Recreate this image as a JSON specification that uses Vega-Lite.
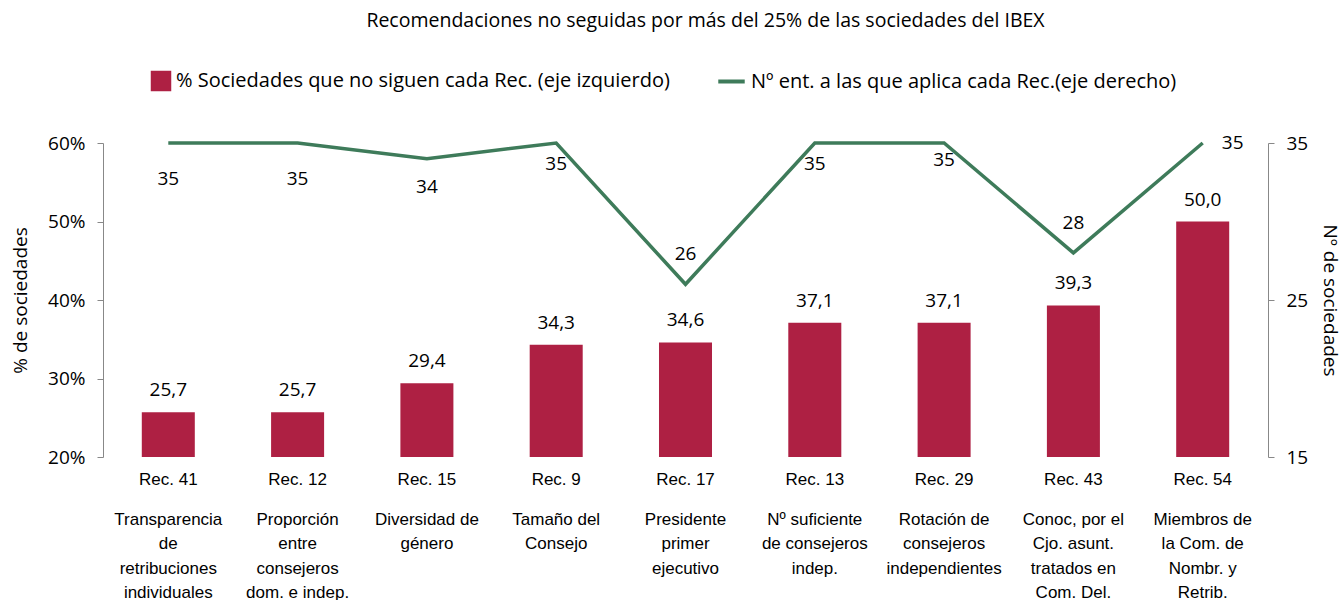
{
  "$schema": "https://vega.github.io/schema/vega-lite/v6.json",
  "width": 1165,
  "height": 314,
  "autosize": {"type": "none"},
  "padding": {"left": 103, "top": 143, "right": 76, "bottom": 143},
  "title": {"text": "Recomendaciones no seguidas por más del 25% de las sociedades del IBEX", "anchor": "middle", "dx": 20, "offset": 35, "font": "Open Sans", "fontSize": 19.5, "fontWeight": "normal", "color": "#000000"},
  "config": {
    "view": {"stroke": null},
    "font": "Open Sans",
    "axis": {"grid": false, "domainColor": "#888888", "tickColor": "#888888", "labelColor": "#000000", "titleColor": "#000000", "titleFontWeight": "normal"}
  },
  "data": {"values": [
    {"cat": "Rec. 41|Transparencia|de|retribuciones|individuales", "rec": "Rec. 41", "pct": 25.7, "n": 35},
    {"cat": "Rec. 12|Proporción|entre|consejeros|dom. e indep.", "rec": "Rec. 12", "pct": 25.7, "n": 35},
    {"cat": "Rec. 15|Diversidad de|género", "rec": "Rec. 15", "pct": 29.4, "n": 34},
    {"cat": "Rec. 9|Tamaño del|Consejo", "rec": "Rec. 9", "pct": 34.3, "n": 35},
    {"cat": "Rec. 17|Presidente|primer|ejecutivo", "rec": "Rec. 17", "pct": 34.6, "n": 26},
    {"cat": "Rec. 13|Nº suficiente|de consejeros|indep.", "rec": "Rec. 13", "pct": 37.1, "n": 35},
    {"cat": "Rec. 29|Rotación de|consejeros|independientes", "rec": "Rec. 29", "pct": 37.1, "n": 35},
    {"cat": "Rec. 43|Conoc, por el|Cjo. asunt.|tratados en|Com. Del.", "rec": "Rec. 43", "pct": 39.3, "n": 28},
    {"cat": "Rec. 54|Miembros de|la Com. de|Nombr. y|Retrib.", "rec": "Rec. 54", "pct": 50.0, "n": 35}
  ]},
  "layer": [
    {
      "encoding": {
        "x": {"field": "cat", "type": "nominal", "sort": null, "scale": {"paddingInner": 0.59, "paddingOuter": 0.3}, "axis": {"orient": "bottom", "title": null, "domain": false, "ticks": false, "labelAngle": 0, "labelExpr": "split(datum.value, '|')[0]", "labelPadding": 14, "labelFontSize": 17, "labelFont": "Liberation Sans", "labelBaseline": "top"}},
        "y": {"field": "pct", "type": "quantitative", "scale": {"domain": [20, 60], "nice": false, "zero": false}, "axis": {"title": "% de sociedades", "titleFontSize": 19, "titlePadding": 17, "values": [20, 30, 40, 50, 60], "labelExpr": "datum.value + '%'", "labelFontSize": 19, "tickSize": 6, "labelPadding": 12}}
      },
      "layer": [
        {
          "mark": {"type": "bar"},
          "encoding": {
            "y2": {"datum": 20},
            "fill": {"datum": "% Sociedades que no siguen cada Rec. (eje izquierdo)", "type": "nominal", "scale": {"range": ["#AE2043"]}, "legend": {"orient": "none", "legendX": 47, "legendY": -73, "title": null, "symbolType": "square", "symbolSize": 420, "labelFontSize": 20, "labelFont": "Open Sans", "labelLimit": 800}}
          }
        },
        {
          "transform": [{"calculate": "replace(format(datum.pct, '.1f'), '.', ',')", "as": "lab"}],
          "mark": {"type": "text", "baseline": "bottom", "dy": -12, "fontSize": 19, "color": "#000000"},
          "encoding": {"text": {"field": "lab"}}
        }
      ]
    },
    {
      "encoding": {
        "x": {"field": "cat", "type": "nominal", "sort": null, "axis": {"orient": "bottom", "title": null, "domain": false, "ticks": false, "labelAngle": 0, "labelExpr": "slice(split(datum.value, '|'), 1)", "labelPadding": 54, "labelFontSize": 17, "labelFont": "Liberation Sans", "labelBaseline": "top", "labelLineHeight": 24.5}},
        "y": {"field": "n", "type": "quantitative", "scale": {"domain": [15, 35], "nice": false, "zero": false}, "axis": {"orient": "right", "title": "Nº de sociedades", "titleFontSize": 19, "titlePadding": 12, "values": [15, 25, 35], "labelFontSize": 19, "tickSize": 6, "labelPadding": 12}}
      },
      "layer": [
        {
          "mark": {"type": "line", "strokeWidth": 3.5},
          "encoding": {
            "stroke": {"datum": "Nº ent. a las que aplica cada Rec.(eje derecho)", "type": "nominal", "scale": {"range": ["#3E7B5A"]}, "legend": {"orient": "none", "legendX": 613, "legendY": -77, "title": null, "symbolStrokeWidth": 4, "symbolSize": 700, "labelFontSize": 20, "labelFont": "Open Sans", "labelLimit": 800}}
          }
        },
        {
          "transform": [{"filter": "indexof(['Rec. 41','Rec. 12'], datum.rec) >= 0"}],
          "mark": {"type": "text", "dy": 36, "fontSize": 19, "color": "#000000"},
          "encoding": {"text": {"field": "n"}}
        },
        {
          "transform": [{"filter": "datum.rec == 'Rec. 15'"}],
          "mark": {"type": "text", "dy": 28, "fontSize": 19, "color": "#000000"},
          "encoding": {"text": {"field": "n"}}
        },
        {
          "transform": [{"filter": "indexof(['Rec. 9','Rec. 13'], datum.rec) >= 0"}],
          "mark": {"type": "text", "dy": 21, "fontSize": 19, "color": "#000000"},
          "encoding": {"text": {"field": "n"}}
        },
        {
          "transform": [{"filter": "datum.rec == 'Rec. 29'"}],
          "mark": {"type": "text", "dy": 17, "fontSize": 19, "color": "#000000"},
          "encoding": {"text": {"field": "n"}}
        },
        {
          "transform": [{"filter": "indexof(['Rec. 17','Rec. 43'], datum.rec) >= 0"}],
          "mark": {"type": "text", "dy": -30, "fontSize": 19, "color": "#000000"},
          "encoding": {"text": {"field": "n"}}
        },
        {
          "transform": [{"filter": "datum.rec == 'Rec. 54'"}],
          "mark": {"type": "text", "dx": 30, "fontSize": 19, "color": "#000000"},
          "encoding": {"text": {"field": "n"}}
        }
      ]
    }
  ],
  "resolve": {"scale": {"y": "independent", "fill": "independent", "stroke": "independent"}, "axis": {"x": "independent"}}
}
